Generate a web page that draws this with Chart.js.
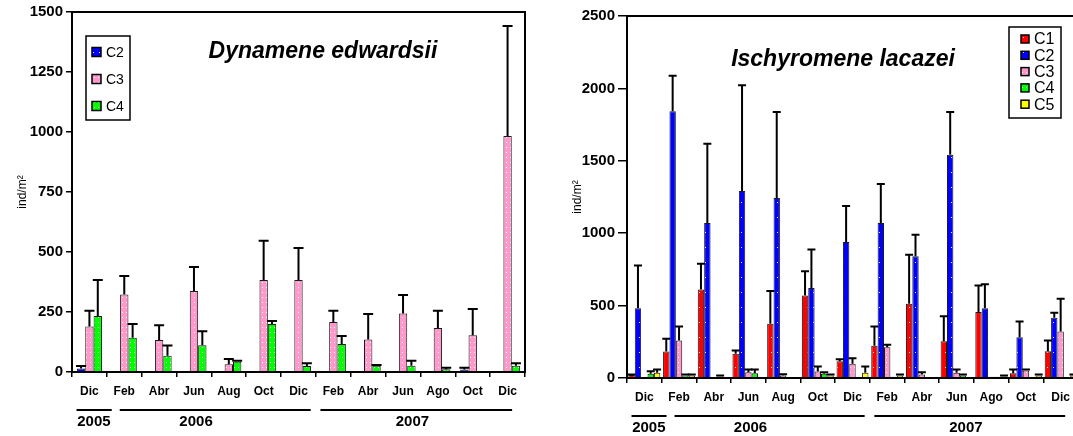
<!DOCTYPE html>
<html lang="es">
<head>
<meta charset="UTF-8">
<title>Dynamene edwardsii / Ischyromene lacazei</title>
<script src="https://cdn.jsdelivr.net/npm/chart.js"></script>
<style>
  html, body { margin: 0; padding: 0; background: #fff; overflow: hidden; }
  #left  { position: absolute; left: 0;     top: 0; width: 535px; height: 436px; }
  #right { position: absolute; left: 540px; top: 0; width: 540px; height: 436px; }
</style>
</head>
<body>
<div id="left"><canvas id="chartLeft"></canvas></div>
<div id="right"><canvas id="chartRight"></canvas></div>

<script>
// ---- data ----
const months = ['Dic', 'Feb', 'Abr', 'Jun', 'Aug', 'Oct', 'Dic', 'Feb', 'Abr', 'Jun', 'Ago', 'Oct', 'Dic'];
const years = ['2005', '2006', '2007'];
// extent of each year bracket and its label, in category units
const yearFrom = [-0.37, 0.87, 6.63];
const yearTo = [0.64, 6.35, 12.13];
const yearMid = [0.13, 3.06, 9.27];

// Dynamene edwardsii (mean, sd)
const dynC2 = [15, null, null, null, null, null, null, null, null, null, null, 10, null];
const dynC2sd = [10, null, null, null, null, null, null, null, null, null, null, 8, null];
const dynC3 = [190, 323, 133, 337, 32, 383, 383, 208, 135, 244, 183, 153, 983];
const dynC3sd = [65, 77, 62, 100, 22, 164, 134, 47, 107, 77, 72, 110, 459];
const dynC4 = [233, 143, 68, 111, 43, 200, 25, 117, 26, 26, 11, null, 26];
const dynC4sd = [150, 57, 42, 59, 4, 12, 11, 33, 3, 21, 7, null, 10];

// Ischyromene lacazei (mean, sd)
const isC1 = [20, 183, 612, 167, 374, 570, 116, 222, 513, 254, 455, 33, 185];
const isC1sd = [5, 88, 177, 23, 226, 168, 14, 134, 338, 173, 184, 26, 74];
const isC2 = [482, 1842, 1070, 1291, 1243, 621, 939, 1070, 840, 1542, 482, 282, 416];
const isC2sd = [295, 246, 548, 730, 594, 267, 249, 269, 150, 295, 166, 108, 35];
const isC3 = [5, 259, null, 40, 17, 45, 98, 213, 24, 36, 8, 52, 321];
const isC3sd = [null, 97, null, 19, 9, 34, 39, 16, 16, 23, null, 7, 226];
const isC4 = [29, 17, 10, 33, null, 29, null, 8, null, 17, 8, null, null];
const isC4sd = [18, 7, 7, 26, null, 11, null, null, null, 7, null, null, null];
const isC5 = [36, 17, 5, null, null, 17, 36, 17, null, null, 10, 17, 17];
const isC5sd = [23, 7, null, null, null, 7, 43, 7, null, null, 7, 7, 7];

const FONT = "'Liberation Sans', Arial, sans-serif";

// dotted fill like the original bars
function makePattern(color, w, h) {
  const c = document.createElement('canvas');
  c.width = w; c.height = h;
  const g = c.getContext('2d');
  g.fillStyle = color;
  g.fillRect(0, 0, w, h);
  g.fillStyle = 'rgba(255,255,255,0.9)';
  g.fillRect(Math.floor(w / 2), Math.floor(h / 2), 1, 1);
  return g.createPattern(c, 'repeat');
}
const fillC1 = makePattern('#ff0000', 6, 15);
const fillC2 = makePattern('#0000ff', 6, 15);
const fillC3 = makePattern('#ff99cc', 4, 5);
const fillC4 = makePattern('#00ff00', 4, 5);
const fillC5 = makePattern('#ffff00', 6, 15);

function barSet(label, data, sd, fill) {
  return {
    label: label, data: data, sd: sd,
    backgroundColor: fill, borderColor: '#1a1a1a', borderWidth: 1,
    barPercentage: 1.0
  };
}

// frame around the plot area
const framePlugin = {
  id: 'frame',
  afterDraw(chart) {
    const a = chart.chartArea, ctx = chart.ctx;
    ctx.save();
    ctx.strokeStyle = '#000';
    ctx.lineWidth = 2;
    ctx.strokeRect(a.left, a.top, a.right - a.left, a.bottom - a.top);
    ctx.restore();
  }
};

// upper error bars
const errorBarPlugin = {
  id: 'errorBars',
  afterDatasetsDraw(chart, args, opts) {
    const ctx = chart.ctx, y = chart.scales.y;
    ctx.save();
    ctx.strokeStyle = '#000';
    ctx.lineWidth = 2;
    chart.data.datasets.forEach((ds, i) => {
      const meta = chart.getDatasetMeta(i);
      meta.data.forEach((bar, j) => {
        const v = ds.data[j], e = ds.sd[j];
        if (v == null || e == null) return;
        const top = y.getPixelForValue(v + e);
        ctx.beginPath();
        ctx.moveTo(bar.x, bar.y);
        ctx.lineTo(bar.x, top);
        ctx.moveTo(bar.x - opts.cap, top);
        ctx.lineTo(bar.x + opts.cap, top);
        ctx.stroke();
      });
    });
    ctx.restore();
  }
};

// year brackets under the month labels
const yearPlugin = {
  id: 'years',
  afterDraw(chart) {
    const ctx = chart.ctx, x = chart.scales.x, b = chart.chartArea.bottom;
    ctx.save();
    ctx.strokeStyle = '#000';
    ctx.lineWidth = 2;
    ctx.fillStyle = '#000';
    ctx.font = 'bold 15px ' + FONT;
    ctx.textAlign = 'center';
    ctx.textBaseline = 'middle';
    years.forEach((yr, k) => {
      ctx.beginPath();
      ctx.moveTo(x.getPixelForValue(yearFrom[k]), b + 38);
      ctx.lineTo(x.getPixelForValue(yearTo[k]), b + 38);
      ctx.stroke();
      ctx.fillText(yr, x.getPixelForValue(yearMid[k]), b + 50);
    });
    ctx.restore();
  }
};

// species name + boxed legend inside the plot
const labelPlugin = {
  id: 'inplot',
  afterDraw(chart, args, o) {
    const ctx = chart.ctx;
    ctx.save();
    ctx.fillStyle = '#000';
    ctx.font = 'italic bold 23px ' + FONT;
    ctx.textAlign = 'center';
    ctx.textBaseline = 'middle';
    ctx.fillText(o.title, o.titleX, o.titleY);

    ctx.strokeStyle = '#000';
    ctx.lineWidth = 1.5;
    ctx.fillStyle = '#fff';
    ctx.fillRect(o.box[0], o.box[1], o.box[2], o.box[3]);
    ctx.strokeRect(o.box[0], o.box[1], o.box[2], o.box[3]);
    ctx.font = o.font + 'px ' + FONT;
    ctx.textAlign = 'left';
    chart.data.datasets.forEach((ds, i) => {
      const yy = o.row0 + i * o.rowH;
      ctx.fillStyle = ds.backgroundColor;
      ctx.fillRect(o.swX, yy - o.sw / 2, o.sw, o.sw);
      ctx.lineWidth = 1.5;
      ctx.strokeStyle = '#000';
      ctx.strokeRect(o.swX, yy - o.sw / 2, o.sw, o.sw);
      ctx.fillStyle = '#000';
      ctx.fillText(ds.label, o.txX, yy + 1);
    });
    ctx.restore();
  }
};

function makeChart(id, datasets, yMax, yStep, catPct, yWidth, xHeight, pad, yTick, yTitlePad, inplot, cap) {
  return new Chart(document.getElementById(id), {
    type: 'bar',
    data: { labels: months, datasets: datasets },
    options: {
      responsive: true,
      maintainAspectRatio: false,
      animation: false,
      layout: { padding: pad },
      datasets: { bar: { categoryPercentage: catPct } },
      plugins: {
        legend: { display: false },
        tooltip: { enabled: false },
        errorBars: { cap: cap },
        inplot: inplot
      },
      scales: {
        x: {
          offset: true,
          grid: { offset: true, drawOnChartArea: false, tickLength: 5, color: '#000', lineWidth: 1.5 },
          border: { color: '#000', width: 2 },
          ticks: { color: '#000', font: { family: FONT, size: 12, weight: 'bold' }, padding: 7, maxRotation: 0, autoSkip: false },
          afterFit(s) { s.height = xHeight; }
        },
        y: {
          min: 0, max: yMax,
          grid: { drawOnChartArea: false, tickLength: yTick, color: '#000', lineWidth: 1.5 },
          border: { color: '#000', width: 2 },
          ticks: { stepSize: yStep, color: '#000', font: { family: FONT, size: 15, weight: 'bold' }, padding: 3,
                   callback: v => String(v) },
          title: { display: true, text: 'ind/m²', color: '#000', font: { family: FONT, size: 12 }, padding: { top: yTitlePad, bottom: 0 } },
          afterFit(s) { s.width = yWidth; }
        }
      }
    },
    plugins: [errorBarPlugin, framePlugin, yearPlugin, labelPlugin]
  });
}

makeChart('chartLeft',
  [barSet('C2', dynC2, dynC2sd, fillC2), barSet('C3', dynC3, dynC3sd, fillC3), barSet('C4', dynC4, dynC4sd, fillC4)],
  1500, 250, 0.72, 72, 64, { top: 12, right: 10, left: 0, bottom: 0 }, 6, 15,
  { title: 'Dynamene edwardsii', titleX: 323, titleY: 52,
    box: [86, 36, 44, 84], row0: 52, rowH: 27, swX: 92, sw: 9, txX: 106, font: 14 },
  5);

makeChart('chartRight',
  [barSet('C1', isC1, isC1sd, fillC1), barSet('C2', isC2, isC2sd, fillC2), barSet('C3', isC3, isC3sd, fillC3),
   barSet('C4', isC4, isC4sd, fillC4), barSet('C5', isC5, isC5sd, fillC5)],
  2500, 500, 0.92, 87, 58, { top: 16, right: 2, left: 0, bottom: 0 }, 9, 30,
  { title: 'Ischyromene lacazei', titleX: 303, titleY: 60,
    box: [469, 27, 52, 91], row0: 39, rowH: 16.3, swX: 481, sw: 8, txX: 494, font: 16 },
  4);
</script>
</body>
</html>
